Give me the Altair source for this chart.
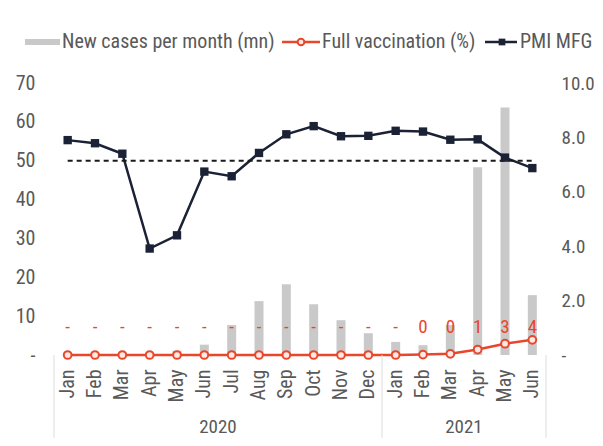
import altair as alt
import pandas as pd

months = ["Jan", "Feb", "Mar", "Apr", "May", "Jun", "Jul", "Aug", "Sep", "Oct", "Nov", "Dec",
          "Jan", "Feb", "Mar", "Apr", "May", "Jun"]
years = [2020] * 12 + [2021] * 6
cases_mn = [0.0, 0.0, 0.01, 0.03, 0.16, 0.38, 1.1, 1.98, 2.6, 1.87, 1.28, 0.8,
            0.48, 0.36, 1.1, 6.9, 9.1, 2.2]
vaccination = [0, 0, 0, 0, 0, 0, 0, 0, 0, 0, 0, 0, 0, 0.1, 0.3, 1.4, 2.9, 3.9]
pmi = [55.3, 54.5, 51.8, 27.4, 30.8, 47.2, 46.0, 52.0, 56.8, 58.9, 56.3, 56.4,
       57.7, 57.5, 55.4, 55.5, 50.8, 48.1]
pmi_threshold = 50
label_level = 7.2

keys = [f"{m} {y}" for m, y in zip(months, years)]
df = pd.DataFrame({"key": keys, "month": months, "year": years,
                   "cases": cases_mn, "vax": vaccination, "pmi": pmi})

FONT = "'Liberation Sans Narrow', 'Arial Narrow', 'Roboto Condensed', sans-serif"
GREY_TXT = "#595959"
RED = "#e8472b"
NAVY = "#1b2236"
BAR = "#c9c9c9"
FS = 20


def X(**kw):
    return alt.X("key:N", sort=keys, title=None,
                 scale=alt.Scale(paddingInner=0, paddingOuter=0),
                 axis=alt.Axis(labelExpr="split(datum.label, ' ')[0]", labelAngle=270,
                               labelPadding=14, labelAlign="right", labelBaseline="middle",
                               labelOverlap=False),
                 **kw)


LEFT_AXIS = alt.Axis(orient="left", values=[0, 10, 20, 30, 40, 50, 60, 70],
                     labelExpr="datum.value == 0 ? '-' : datum.label",
                     labelPadding=19, labelOverlap=False, tickCount=8)
LEFT_SCALE = alt.Scale(domain=[0, 70], nice=False, zero=True)


def LY_(field):
    return alt.Y(field, title=None, scale=LEFT_SCALE, axis=LEFT_AXIS)


base = alt.Chart(df)

bars = base.mark_bar(size=9, color=BAR).encode(
    x=X(),
    y=alt.Y("cases:Q", title=None,
            scale=alt.Scale(domain=[0, 10], nice=False, zero=True),
            axis=alt.Axis(orient="right", values=[0, 2, 4, 6, 8, 10], format=".1f",
                          labelExpr="datum.value == 0 ? '-' : datum.label",
                          labelPadding=15, labelFontSize=19, labelOverlap=False)),
)

pmi_line = base.mark_line(color=NAVY, strokeWidth=2.5).encode(x=X(), y=LY_("pmi:Q"))
pmi_pts = base.mark_square(color=NAVY, size=70, opacity=1).encode(x=X(), y=LY_("pmi:Q"))
dash = base.mark_line(color="#1a1a1a", strokeWidth=2, strokeDash=[5, 4]).encode(
    x=X(), y=alt.YDatum(datum=pmi_threshold, scale=LEFT_SCALE, axis=LEFT_AXIS))
vax_line = base.mark_line(color=RED, strokeWidth=2.5).encode(x=X(), y=LY_("vax:Q"))
vax_pts = base.mark_point(shape="circle", filled=True, fill="#fde9e4", stroke=RED,
                          strokeWidth=2, size=60, opacity=1).encode(x=X(), y=LY_("vax:Q"))
vax_lbl = base.transform_calculate(
    lbl="datum.vax == 0 ? '-' : format(datum.vax, '.0f')"
).mark_text(color=RED, font=FONT, fontSize=19, baseline="middle").encode(
    x=X(), y=alt.YDatum(datum=label_level, scale=LEFT_SCALE, axis=LEFT_AXIS),
    text="lbl:N")

# separators of the year groups below the axis
sep_df = pd.DataFrame({"key": ["Jan 2020", "Jan 2021"]})
seps = alt.Chart(sep_df).mark_rule(color="#dddddd", strokeWidth=1).encode(
    x=alt.X("key:N", sort=keys, bandPosition=0), y=alt.value(272), y2=alt.value(355))
sep_end = alt.Chart(pd.DataFrame({"key": ["Jun 2021"]})).mark_rule(
    color="#dddddd", strokeWidth=1).encode(
    x=alt.X("key:N", sort=keys, bandPosition=1), y=alt.value(272), y2=alt.value(355))

year_df = pd.DataFrame({"key": ["Jul 2020", "Apr 2021"], "label": ["2020", "2021"]})
year_txt = alt.Chart(year_df).mark_text(font=FONT, fontSize=19, color=GREY_TXT,
                                         baseline="alphabetic", align="center").encode(
    x=alt.X("key:N", sort=keys, bandPosition=0), y=alt.value(350), text="label:N")

# legend
one = alt.Data(values=[{"a": 1}])
LY = -41
leg = [
    alt.Chart(one).mark_rule(color=BAR, strokeWidth=6).encode(
        x=alt.value(-29), x2=alt.value(6), y=alt.value(LY)),
    alt.Chart(one).mark_text(font=FONT, fontSize=FS, color=GREY_TXT, align="left",
                             baseline="middle", text="New cases per month (mn)").encode(
        x=alt.value(8), y=alt.value(LY)),
    alt.Chart(one).mark_rule(color=RED, strokeWidth=2.5).encode(
        x=alt.value(228), x2=alt.value(266), y=alt.value(LY)),
    alt.Chart(one).mark_point(shape="circle", filled=True, fill="#fde9e4", stroke=RED,
                              strokeWidth=2, size=45, opacity=1).encode(
        x=alt.value(247), y=alt.value(LY)),
    alt.Chart(one).mark_text(font=FONT, fontSize=FS, color=GREY_TXT, align="left",
                             baseline="middle", text="Full vaccination (%)").encode(
        x=alt.value(268), y=alt.value(LY)),
    alt.Chart(one).mark_rule(color=NAVY, strokeWidth=2.5).encode(
        x=alt.value(431), x2=alt.value(463), y=alt.value(LY)),
    alt.Chart(one).mark_square(color=NAVY, size=45, opacity=1).encode(
        x=alt.value(448), y=alt.value(LY)),
    alt.Chart(one).mark_text(font=FONT, fontSize=FS, color=GREY_TXT, align="left",
                             baseline="middle", text="PMI MFG").encode(
        x=alt.value(466), y=alt.value(LY)),
]

left_group = alt.layer(pmi_line, dash, pmi_pts, vax_line, vax_pts, vax_lbl,
                       seps, sep_end, year_txt, *leg)

chart = alt.layer(bars, left_group).resolve_scale(y="independent").properties(
    width=492, height=272,
    autosize=alt.AutoSizeParams(type="none"),
    padding={"left": 46, "top": 75, "right": 49, "bottom": 83},
).configure_axis(
    labelFont=FONT, labelFontSize=FS, labelColor=GREY_TXT,
    domain=False, ticks=False, grid=False,
).configure_view(stroke=None)

chart.save("out.html", embed_options={"renderer": "svg", "actions": False})
